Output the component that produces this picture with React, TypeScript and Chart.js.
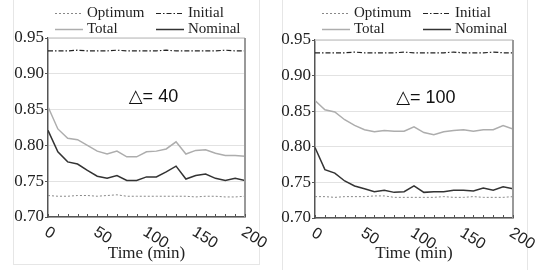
import React, { useEffect, useRef } from "react";
import { Chart, registerables } from "chart.js";
Chart.register(...registerables);

const timeMin = [0, 10, 20, 30, 40, 50, 60, 70, 80, 90, 100, 110, 120, 130, 140, 150, 160, 170, 180, 190, 200];
const xTickLabels = [0, 50, 100, 150, 200];
const seriesNames = ["Optimum", "Initial", "Total", "Nominal"];
const panelLabels = ["\u25B3= 40", "\u25B3= 100"];

const optimumA = [0.730, 0.729, 0.729, 0.730, 0.730, 0.729, 0.730, 0.731, 0.729, 0.729, 0.729, 0.729, 0.729, 0.729, 0.729, 0.728, 0.729, 0.729, 0.728, 0.728, 0.729];
const initialA = [0.932, 0.932, 0.932, 0.933, 0.932, 0.932, 0.932, 0.933, 0.932, 0.932, 0.932, 0.932, 0.933, 0.932, 0.932, 0.932, 0.932, 0.932, 0.933, 0.932, 0.932];
const totalA = [0.854, 0.823, 0.810, 0.808, 0.800, 0.792, 0.788, 0.792, 0.784, 0.784, 0.791, 0.792, 0.795, 0.805, 0.788, 0.793, 0.794, 0.789, 0.786, 0.786, 0.785];
const nominalA = [0.821, 0.791, 0.777, 0.774, 0.765, 0.757, 0.754, 0.758, 0.751, 0.751, 0.756, 0.756, 0.763, 0.771, 0.753, 0.758, 0.760, 0.754, 0.751, 0.754, 0.751];

const optimumB = [0.730, 0.730, 0.729, 0.730, 0.730, 0.730, 0.731, 0.731, 0.729, 0.729, 0.729, 0.729, 0.729, 0.730, 0.729, 0.729, 0.730, 0.729, 0.729, 0.729, 0.730];
const initialB = [0.932, 0.932, 0.932, 0.932, 0.933, 0.932, 0.932, 0.932, 0.932, 0.933, 0.932, 0.932, 0.932, 0.932, 0.933, 0.932, 0.932, 0.932, 0.933, 0.932, 0.932];
const totalB = [0.865, 0.852, 0.849, 0.838, 0.830, 0.824, 0.821, 0.823, 0.822, 0.822, 0.828, 0.820, 0.817, 0.821, 0.823, 0.824, 0.822, 0.824, 0.824, 0.830, 0.825];
const nominalB = [0.799, 0.768, 0.763, 0.752, 0.745, 0.741, 0.737, 0.739, 0.736, 0.737, 0.745, 0.736, 0.737, 0.737, 0.739, 0.739, 0.738, 0.742, 0.739, 0.744, 0.741];

const W = 271;
const H = 270;

const decorPlugin = {
  id: "decor",
  beforeDraw(chart: any, _args: any, opts: any) {
    const ctx = chart.ctx;
    ctx.save();
    ctx.strokeStyle = "#e6e6e6";
    ctx.lineWidth = 1;
    const f = opts.frame;
    ctx.strokeRect(f[0] + 0.5, -2, f[1] - f[0], f[2] + 2.5);
    ctx.restore();
  },
  afterDraw(chart: any, _args: any, opts: any) {
    const { ctx, chartArea: a, scales } = chart;
    const x = scales.x;
    const y = scales.y;
    ctx.save();
    // top border
    ctx.strokeStyle = "#cfcfcf";
    ctx.lineWidth = 1.5;
    ctx.beginPath();
    ctx.moveTo(a.left, a.top);
    ctx.lineTo(a.right, a.top);
    ctx.stroke();
    // right border
    ctx.strokeStyle = "#999";
    ctx.lineWidth = 2;
    ctx.beginPath();
    ctx.moveTo(a.right, a.top);
    ctx.lineTo(a.right, a.bottom);
    ctx.stroke();
    // inward minor ticks
    ctx.strokeStyle = "#555";
    ctx.lineWidth = 1;
    for (const v of timeMin) {
      const px = Math.round(x.getPixelForValue(v)) + 0.5;
      ctx.beginPath();
      ctx.moveTo(px, a.bottom);
      ctx.lineTo(px, a.bottom - 3);
      ctx.stroke();
    }
    // rotated x tick labels
    ctx.fillStyle = "#222";
    ctx.font = '16px "Liberation Sans"';
    ctx.textAlign = "left";
    ctx.textBaseline = "top";
    for (const v of xTickLabels) {
      const px = x.getPixelForValue(v);
      ctx.save();
      ctx.translate(px + 2, a.bottom + 7);
      ctx.rotate((32 * Math.PI) / 180);
      ctx.fillText(String(v), 0, 0);
      ctx.restore();
    }
    // annotation
    ctx.font = '18px "Liberation Sans", "DejaVu Sans"';
    ctx.textBaseline = "middle";
    ctx.fillStyle = "#111";
    ctx.fillText(opts.label, x.getPixelForValue(82), y.getPixelForValue(0.868));
    // legend
    const ds = chart.data.datasets;
    const cols = [a.left + 7, a.left + 108];
    const rows = [13, 29];
    ctx.font = '15px "Liberation Serif"';
    ctx.textBaseline = "middle";
    for (let i = 0; i < ds.length; i++) {
      const cx = cols[i % 2];
      const cy = rows[Math.floor(i / 2)];
      ctx.strokeStyle = ds[i].borderColor;
      ctx.lineWidth = ds[i].borderWidth;
      ctx.setLineDash(ds[i].borderDash || []);
      ctx.beginPath();
      ctx.moveTo(cx, cy + 0.5);
      ctx.lineTo(cx + 28, cy + 0.5);
      ctx.stroke();
      ctx.setLineDash([]);
      ctx.fillStyle = "#222";
      ctx.fillText(ds[i].label, cx + 32, cy);
    }
    ctx.restore();
  },
};

type PanelProps = {
  optimum: number[];
  initial: number[];
  total: number[];
  nominal: number[];
  label: string;
  yWidth: number;
  top: number;
  right: number;
  bottom: number;
  frame: number[];
};

function Panel(p: PanelProps) {
  const ref = useRef<HTMLCanvasElement | null>(null);
  useEffect(() => {
    if (!ref.current) return;
    const chart = new Chart(ref.current, {
      type: "line",
      data: {
        datasets: [
          {
            label: seriesNames[0],
            data: timeMin.map((t, i) => ({ x: t, y: p.optimum[i] })),
            borderColor: "#888",
            borderWidth: 1,
            borderDash: [2, 2],
            pointRadius: 0,
          },
          {
            label: seriesNames[1],
            data: timeMin.map((t, i) => ({ x: t, y: p.initial[i] })),
            borderColor: "#222",
            borderWidth: 1.2,
            borderDash: [5, 2, 1.5, 2],
            pointRadius: 0,
          },
          {
            label: seriesNames[2],
            data: timeMin.map((t, i) => ({ x: t, y: p.total[i] })),
            borderColor: "#adadad",
            borderWidth: 1.5,
            pointRadius: 0,
          },
          {
            label: seriesNames[3],
            data: timeMin.map((t, i) => ({ x: t, y: p.nominal[i] })),
            borderColor: "#333",
            borderWidth: 1.5,
            pointRadius: 0,
          },
        ],
      },
      options: {
        animation: false,
        responsive: false,
        devicePixelRatio: 1,
        layout: { padding: { left: 0, top: p.top, right: p.right, bottom: 0 } },
        plugins: {
          legend: { display: false },
          tooltip: { enabled: false },
          decor: { label: p.label, frame: p.frame },
        } as any,
        scales: {
          x: {
            type: "linear",
            min: 0,
            max: 200,
            ticks: { display: false },
            grid: { display: false },
            border: { display: true, color: "#555", width: 1.5 },
            title: {
              display: true,
              text: "Time (min)",
              color: "#222",
              font: { family: '"Liberation Serif"', size: 17 },
              padding: { top: 0, bottom: 6 },
            },
            afterFit: (s: any) => {
              s.height = p.bottom;
            },
          },
          y: {
            type: "linear",
            min: 0.7,
            max: 0.95,
            ticks: {
              stepSize: 0.05,
              padding: 1,
              color: "#222",
              font: { family: '"Liberation Serif"', size: 17 },
              callback: (v: any) => Number(v).toFixed(2),
            },
            grid: { color: "#e2e2e2", lineWidth: 1, tickLength: 3, tickColor: "#555" },
            border: { display: true, color: "#555", width: 1.5 },
            afterFit: (s: any) => {
              s.width = p.yWidth;
            },
          },
        },
      },
      plugins: [decorPlugin as any],
    });
    return () => chart.destroy();
  }, []);
  return <canvas ref={ref} width={W} height={H} style={{ display: "block", width: W, height: H }} />;
}

export default function App() {
  return (
    <div style={{ position: "absolute", left: 0, top: 0, width: 542, height: 270, display: "flex", background: "#fff" }}>
      <Panel optimum={optimumA} initial={initialA} total={totalA} nominal={nominalA} label={panelLabels[0]}
        yWidth={48} top={38} right={26} bottom={53} frame={[13, 259, 264]} />
      <Panel optimum={optimumB} initial={initialB} total={totalB} nominal={nominalB} label={panelLabels[1]}
        yWidth={44} top={40} right={29} bottom={52} frame={[11, 256, 272]} />
    </div>
  );
}
